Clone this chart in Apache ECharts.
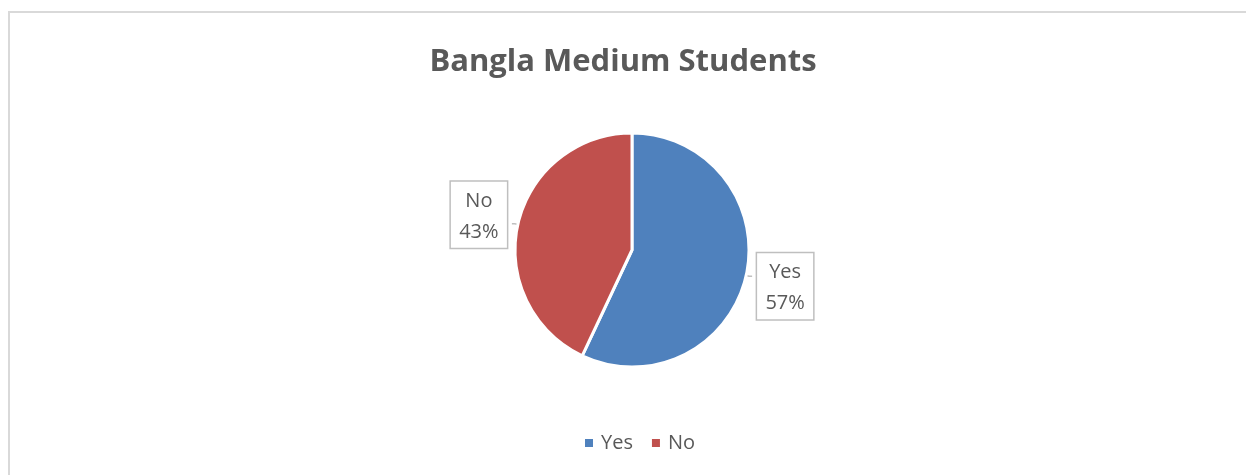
<!DOCTYPE html>
<html>
<head>
<meta charset="utf-8">
<script src="https://cdn.jsdelivr.net/npm/echarts@6/dist/echarts.min.js"></script>
<style>
  html, body { margin: 0; padding: 0; background: #fff; }
  #chart { width: 1246px; height: 475px; }
</style>
</head>
<body>
<div id="chart"></div>
<script>
// Survey answers for Bangla medium students
const categories = ['Yes', 'No'];
const shares = [57, 43];
const colors = ['#4F81BD', '#C0504D'];

const textColor = '#595959';
const font = '"Open Sans", "Liberation Sans", sans-serif';

const chart = echarts.init(document.getElementById('chart'), null, { renderer: 'canvas' });

chart.setOption({
  backgroundColor: '#ffffff',
  animation: false,
  graphic: [{
    type: 'rect',
    silent: true,
    shape: { x: 9, y: 12, width: 1300, height: 520 },
    style: { fill: 'none', stroke: '#D9D9D9', lineWidth: 2 }
  }],
  title: {
    text: 'Bangla Medium Students',
    left: 'center',
    top: 42,
    textStyle: { fontFamily: font, fontSize: 31, fontWeight: 'bold', color: textColor }
  },
  legend: {
    data: categories,
    bottom: 17,
    left: 578,
    icon: 'rect',
    itemWidth: 10,
    itemHeight: 10,
    itemGap: 17,
    textStyle: { fontFamily: font, fontSize: 20, color: textColor, padding: [0, 0, 0, 2] }
  },
  series: [{
    type: 'pie',
    center: [632, 250],
    radius: 117,
    startAngle: 90,
    clockwise: true,
    data: categories.map((name, i) => ({
      name,
      value: shares[i],
      itemStyle: { color: colors[i] }
    })),
    itemStyle: { borderColor: '#ffffff', borderWidth: 3 },
    emphasis: { disabled: true },
    label: {
      show: true,
      position: 'outside',
      formatter: '{t|{b}}\n{t|{d}%}',
      backgroundColor: '#ffffff',
      borderColor: '#BFBFBF',
      borderWidth: 1.5,
      padding: [4, 8, 0, 8],
      rich: {
        t: {
          fontFamily: font,
          fontSize: 20,
          lineHeight: 31,
          color: textColor,
          width: 40,
          align: 'center'
        }
      }
    },
    labelLine: {
      show: true,
      length: 3,
      length2: 3,
      lineStyle: { color: '#BFBFBF', width: 1.5 }
    },
    // callout boxes sit a little off the leader line, as in the original layout
    labelLayout: function (params) {
      return { dy: params.dataIndex === 0 ? 10 : -9 };
    }
  }]
});
</script>
</body>
</html>
